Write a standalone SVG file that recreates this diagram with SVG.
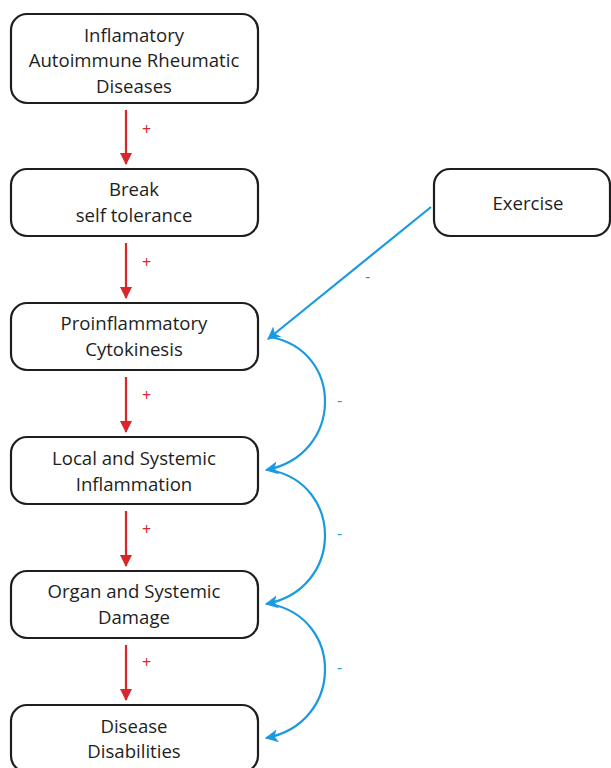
<svg xmlns="http://www.w3.org/2000/svg" width="611" height="768" viewBox="0 0 611 768">
<style>
.box{fill:#fff;stroke:#1e1e1e;stroke-width:2.2}
.t{font-family:"Open Sans","Noto Sans",sans-serif;font-size:18.6px;fill:#1e1e1e;text-anchor:middle}
.red{stroke:#d8262b;stroke-width:2.2;fill:none}
.blue{stroke:#1a9be0;stroke-width:2.2;fill:none}
.lr{font-family:"Open Sans",sans-serif;font-size:16px;fill:#d8262b}
.lb{font-family:"Open Sans",sans-serif;font-size:16px;fill:#1a9be0}
</style>
<defs>
<marker id="ar" viewBox="0 0 12 12" refX="11" refY="6" markerWidth="12" markerHeight="12" markerUnits="userSpaceOnUse" orient="auto"><path d="M0,0 L12,6 L0,12 Z" fill="#d8262b"/></marker>
<marker id="ab" viewBox="0 0 12 12" refX="11" refY="6" markerWidth="13" markerHeight="13" markerUnits="userSpaceOnUse" orient="auto"><path d="M0,0 L12,6 L0,12 L3,6 Z" fill="#1a9be0"/></marker>
</defs>
<g id="n1"><rect class="box" x="11" y="14" width="247" height="89" rx="16"/><text class="t" x="134" y="42">Inflamatory</text><text class="t" x="134" y="67">Autoimmune Rheumatic</text><text class="t" x="134" y="93">Diseases</text></g>
<g id="n2"><rect class="box" x="11" y="169" width="247" height="67" rx="16"/><text class="t" x="134" y="196">Break</text><text class="t" x="134" y="222">self tolerance</text></g>
<g id="n3"><rect class="box" x="11" y="303" width="247" height="67" rx="16"/><text class="t" x="134" y="330">Proinflammatory</text><text class="t" x="134" y="356">Cytokinesis</text></g>
<g id="n4"><rect class="box" x="11" y="437" width="247" height="67" rx="16"/><text class="t" x="134" y="465">Local and Systemic</text><text class="t" x="134" y="491">Inflammation</text></g>
<g id="n5"><rect class="box" x="11" y="571" width="247" height="67" rx="16"/><text class="t" x="134" y="598">Organ and Systemic</text><text class="t" x="134" y="624">Damage</text></g>
<g id="n6"><rect class="box" x="11" y="705" width="247" height="67" rx="16"/><text class="t" x="134" y="733">Disease</text><text class="t" x="134" y="758">Disabilities</text></g>
<g id="n7"><rect class="box" x="434" y="169" width="176" height="67" rx="16"/><text class="t" x="528" y="210">Exercise</text></g>
<g id="connectors">
<line class="red" x1="126" y1="110" x2="126" y2="164" marker-end="url(#ar)"/>
<line class="red" x1="126" y1="243" x2="126" y2="298" marker-end="url(#ar)"/>
<line class="red" x1="126" y1="377" x2="126" y2="432" marker-end="url(#ar)"/>
<line class="red" x1="126" y1="511" x2="126" y2="566" marker-end="url(#ar)"/>
<line class="red" x1="126" y1="645" x2="126" y2="700" marker-end="url(#ar)"/>
<line class="blue" x1="431" y1="207" x2="268" y2="339" marker-end="url(#ab)"/>
<path class="blue" d="M270 337 C344 350,344 455,266 470" marker-end="url(#ab)"/>
<path class="blue" d="M270 470 C344 484,344 589,266 604" marker-end="url(#ab)"/>
<path class="blue" d="M270 604 C344 618,344 723,266 738" marker-end="url(#ab)"/>
</g>
<g id="labels">
<text class="lr" x="142" y="135">+</text>
<text class="lr" x="142" y="268">+</text>
<text class="lr" x="142" y="401">+</text>
<text class="lr" x="142" y="535">+</text>
<text class="lr" x="142" y="668">+</text>
<text class="lb" x="365" y="282">-</text>
<text class="lb" x="337" y="406">-</text>
<text class="lb" x="337" y="539">-</text>
<text class="lb" x="337" y="673">-</text>
</g>
</svg>
